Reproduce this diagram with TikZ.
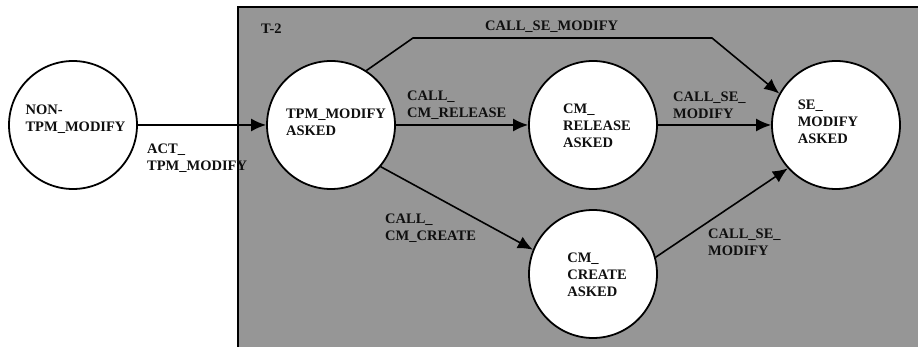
\documentclass[tikz,border=0pt]{standalone}
\usepackage{fontspec}
\setmainfont{Liberation Serif}
\usetikzlibrary{arrows.meta}
\definecolor{boxgray}{RGB}{150,150,150}
\definecolor{txtc}{RGB}{15,15,15}
\tikzset{
  st/.style={circle, draw=black, fill=white, line width=1.8pt, minimum size=128pt, inner sep=0pt},
  stt/.style={align=left, inner sep=0pt, font=\bfseries\fontsize{14.5}{17}\selectfont, text=txtc},
  lbl/.style={align=left, inner sep=0pt, anchor=west, font=\bfseries\fontsize{14.5}{17}\selectfont, text=txtc},
  edge/.style={line width=1.6pt, -{Latex[length=15pt,width=13pt]}},
}
\begin{document}
\begin{tikzpicture}[x=1pt,y=-1pt]
\useasboundingbox (0,0) rectangle (918,347);
% container
\fill[boxgray] (238,7) rectangle (940,370);
\draw[line width=1.8pt] (238,370) -- (238,7) -- (940,7);
\node[lbl] (t2) at (261,29) {T-2};
% states
\node[st] (non) at (73,125) {};
\node[stt] (nont) at (75.5,119) {NON-\\TPM\_MODIFY};
\node[st] (tpm) at (331,125) {};
\node[stt] (tpmt) at (336,122) {TPM\_MODIFY\\ASKED};
\node[st] (cmr) at (593,125) {};
\node[stt] (cmrt) at (597,126) {CM\_\\RELEASE\\ASKED};
\node[st] (se) at (836,125) {};
\node[stt] (set) at (828,122) {SE\_\\MODIFY\\ASKED};
\node[st] (cmc) at (593,274) {};
\node[stt] (cmct) at (597,275) {CM\_\\CREATE\\ASKED};
% edges
\draw[edge] (non.east) -- (tpm.west);
\draw[edge] (tpm.east) -- (cmr.west);
\draw[edge] (cmr.east) -- (se.west);
\draw[edge] (tpm.-40) -- (cmc.158);
\draw[edge] (cmc.15) -- (se.222);
\coordinate (k1) at (413,38);
\coordinate (k2) at (712,38);
\draw[edge] (tpm.57) -- (k1) -- (k2) -- (se.151);
% labels
\node[lbl] (l1) at (147,158.5) {ACT\_\\TPM\_MODIFY};
\node[lbl] (l2) at (407,105.5) {CALL\_\\CM\_RELEASE};
\node[lbl] (l3) at (485,27) {CALL\_SE\_MODIFY};
\node[lbl] (l4) at (673,105.5) {CALL\_SE\_\\MODIFY};
\node[lbl] (l5) at (385,228.5) {CALL\_\\CM\_CREATE};
\node[lbl] (l6) at (708,242.5) {CALL\_SE\_\\MODIFY};
\end{tikzpicture}
\end{document}
